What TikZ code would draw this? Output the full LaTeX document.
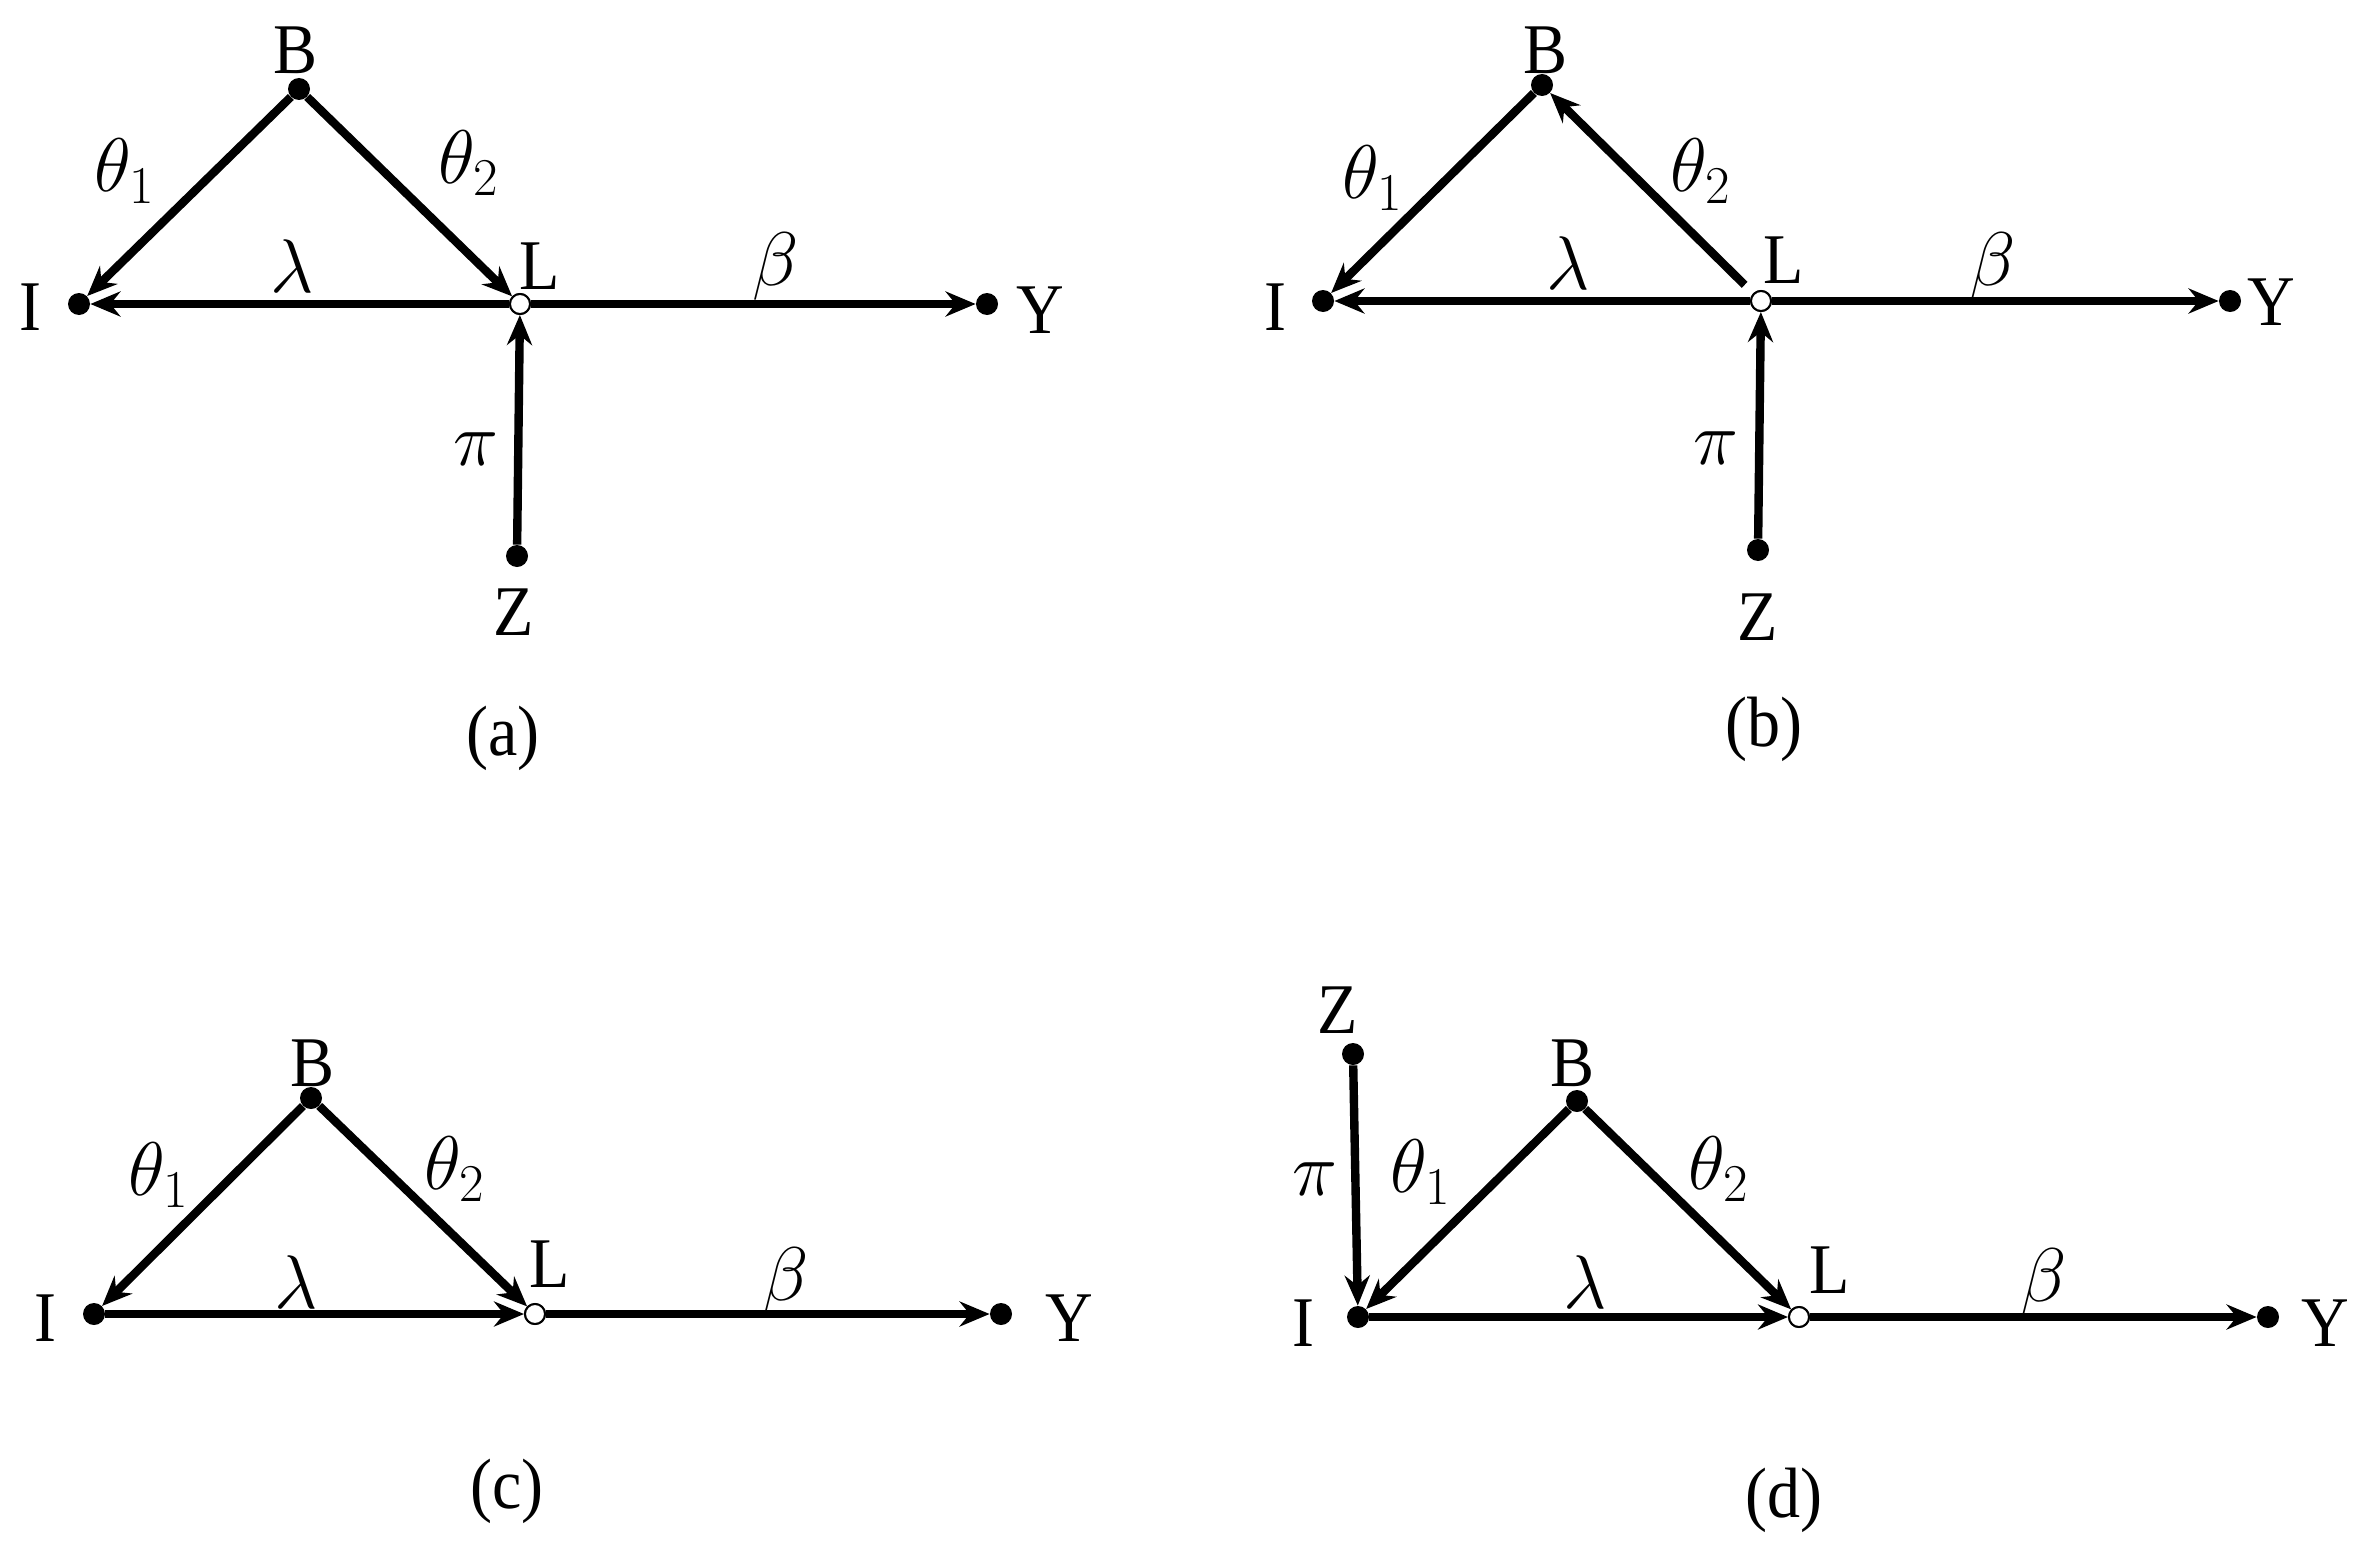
\RequirePackage{fix-cm}
\documentclass[tikz,border=0pt]{standalone}
\usepackage{fontspec}
\setmainfont{Liberation Serif}
\usetikzlibrary{arrows.meta}
\begin{document}
\begin{tikzpicture}[x=0.5pt,y=-0.5pt,
  dot/.style={circle,fill=black,inner sep=0pt,minimum size=11pt},
  open/.style={circle,draw=black,fill=white,line width=1pt,inner sep=0pt,minimum size=10pt},
  lab/.style={inner sep=0pt,yscale=1.08,font=\fontsize{33}{40}\selectfont},
  mlab/.style={inner sep=0pt,font=\fontsize{38}{45}\selectfont},
  edge/.style={line width=4.2pt,-{Stealth[length=15pt,width=12.5pt,inset=5pt]}}]
\useasboundingbox (0,0) rectangle (2371,1568);
% ---------- (a)
\node[dot] (aB) at (299,89) {};
\node[dot] (aI) at (79,304) {};
\node[dot] (aY) at (987,304) {};
\node[dot] (aZ) at (517,556) {};
\node[open] (aL) at (520,304) {};
\draw[edge] (aB) -- (aI);
\draw[edge] (aB) -- (aL);
\draw[edge] (aL) -- (aI);
\draw[edge] (aL) -- (aY);
\draw[edge] (aZ) -- (aL);
\node[open] (aL2) at (aL) {};
\node[lab] (aBt) at (296,50) {B};
\node[lab] (aIt) at (30,307) {I};
\node[lab] (aLt) at (540,266) {L};
\node[lab] (aYt) at (1040,310) {Y};
\node[lab] (aZt) at (514,612) {Z};
\node[mlab] (at1) at (125,171) {$\theta_1$};
\node[mlab] (at2) at (469,163) {$\theta_2$};
\node[mlab] (alam) at (292,266) {$\lambda$};
\node[mlab] (abet) at (776,266) {$\beta$};
\node[mlab] (api) at (476,449) {$\pi$};
\node[lab] (acap) at (503,738) {(a)};
% ---------- (b)
\node[dot] (bB) at (1542,85) {};
\node[dot] (bI) at (1323,301) {};
\node[dot] (bY) at (2230,301) {};
\node[dot] (bZ) at (1758,550) {};
\node[open] (bL) at (1761,301) {};
\draw[edge] (bB) -- (bI);
\draw[edge,shorten <=6pt] (bL) -- (bB);
\draw[edge] (bL) -- (bI);
\draw[edge] (bL) -- (bY);
\draw[edge] (bZ) -- (bL);
\node[open] (bL2) at (bL) {};
\node[lab] (bBt) at (1545,50) {B};
\node[lab] (bIt) at (1275,307) {I};
\node[lab] (bLt) at (1784,260) {L};
\node[lab] (bYt) at (2271,302) {Y};
\node[lab] (bZt) at (1758,617) {Z};
\node[mlab] (bt1) at (1373,178) {$\theta_1$};
\node[mlab] (bt2) at (1701,171) {$\theta_2$};
\node[mlab] (blam) at (1568,263) {$\lambda$};
\node[mlab] (bbet) at (1993,266) {$\beta$};
\node[mlab] (bpi) at (1716,448) {$\pi$};
\node[lab] (bcap) at (1764,729) {(b)};
% ---------- (c)
\node[dot] (cB) at (311,1098) {};
\node[dot] (cI) at (94,1314) {};
\node[dot] (cY) at (1001,1314) {};
\node[open] (cL) at (535,1314) {};
\draw[edge] (cB) -- (cI);
\draw[edge] (cB) -- (cL);
\draw[edge] (cI) -- (cL);
\draw[edge] (cL) -- (cY);
\node[open] (cL2) at (cL) {};
\node[lab] (cBt) at (313,1063) {B};
\node[lab] (cIt) at (45,1318) {I};
\node[lab] (cLt) at (550,1264) {L};
\node[lab] (cYt) at (1069,1318) {Y};
\node[mlab] (ct1) at (159,1175) {$\theta_1$};
\node[mlab] (ct2) at (455,1169) {$\theta_2$};
\node[mlab] (clam) at (296,1282) {$\lambda$};
\node[mlab] (cbet) at (786,1281) {$\beta$};
\node[lab] (ccap) at (507,1491) {(c)};
% ---------- (d)
\node[dot] (dZ) at (1353,1054) {};
\node[dot] (dB) at (1577,1101) {};
\node[dot] (dI) at (1358,1317) {};
\node[dot] (dY) at (2268,1317) {};
\node[open] (dL) at (1799,1317) {};
\draw[edge] (dZ) -- (dI);
\draw[edge] (dB) -- (dI);
\draw[edge] (dB) -- (dL);
\draw[edge] (dI) -- (dL);
\draw[edge] (dL) -- (dY);
\node[open] (dL2) at (dL) {};
\node[lab] (dZt) at (1338,1010) {Z};
\node[lab] (dBt) at (1572,1063) {B};
\node[lab] (dIt) at (1303,1323) {I};
\node[lab] (dLt) at (1830,1270) {L};
\node[lab] (dYt) at (2325,1323) {Y};
\node[mlab] (dt1) at (1421,1172) {$\theta_1$};
\node[mlab] (dt2) at (1719,1169) {$\theta_2$};
\node[mlab] (dpi) at (1315,1179) {$\pi$};
\node[mlab] (dlam) at (1585,1282) {$\lambda$};
\node[mlab] (dbet) at (2044,1282) {$\beta$};
\node[lab] (dcap) at (1784,1500) {(d)};
\end{tikzpicture}
\end{document}
